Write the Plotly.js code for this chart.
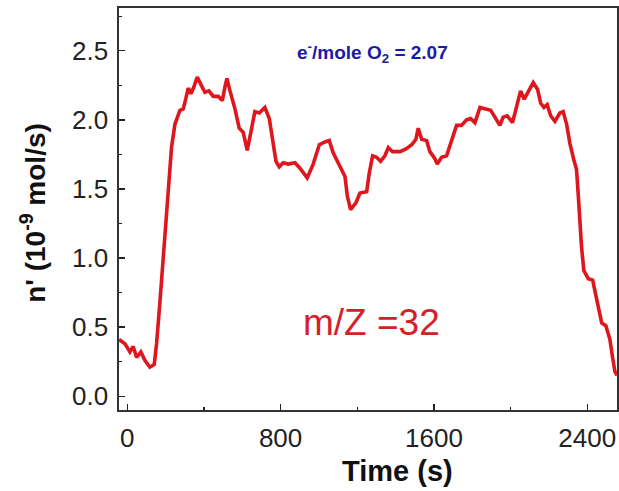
<!DOCTYPE html>
<html>
<head>
<meta charset="utf-8">
<script src="https://cdn.plot.ly/plotly-3.0.1.min.js"></script>
<style>html,body{margin:0;padding:0;background:#fff;}#chart{width:619px;height:491px;}</style>
</head>
<body>
<div id="chart"></div>
<script>
// Time (s)
var timeS = [-43,-12,14,31,49,71,92,118,141,153,171,188,205,218,231,249,275,292,305,318,
  332,348,365,384,405,426,449,475,496,510,520,536,562,584,605,626,644,666,689,718,
  741,759,776,793,814,840,875,901,939,970,1002,1031,1054,1075,1106,1136,1148,1165,1193,1214,
  1249,1262,1280,1301,1322,1344,1362,1384,1423,1454,1484,1506,1518,1536,1562,1579,1605,1617,1640,1666,
  1692,1718,1744,1770,1791,1814,1840,1866,1896,1918,1944,1961,1982,2010,2031,2052,2071,2092,2118,2141,
  2157,2174,2191,2209,2231,2257,2274,2292,2309,2330,2344,2356,2362,2370,2382,2405,2428,2445,2462,2475,
  2497,2518,2532,2544,2555];
// n' (10^-9 mol/s)
var flux = [0.41,0.38,0.32,0.36,0.28,0.32,0.26,0.21,0.23,0.38,0.69,0.98,1.27,1.56,1.80,1.97,2.07,2.08,2.15,2.23,
  2.19,2.24,2.31,2.26,2.20,2.21,2.17,2.17,2.14,2.24,2.30,2.21,2.08,1.94,1.91,1.78,1.92,2.06,2.05,2.09,
  2.01,1.83,1.70,1.66,1.69,1.68,1.69,1.65,1.58,1.68,1.82,1.84,1.85,1.76,1.67,1.59,1.45,1.35,1.40,1.47,
  1.48,1.61,1.74,1.73,1.70,1.74,1.80,1.77,1.77,1.79,1.82,1.86,1.94,1.86,1.85,1.77,1.72,1.68,1.73,1.74,
  1.85,1.96,1.96,2.00,2.01,1.98,2.09,2.08,2.07,2.02,1.96,2.02,2.03,1.98,2.09,2.21,2.15,2.20,2.27,2.22,
  2.12,2.09,2.11,2.03,1.99,2.05,2.06,1.97,1.83,1.71,1.64,1.39,1.20,1.08,0.91,0.85,0.84,0.72,0.62,0.53,
  0.51,0.41,0.28,0.18,0.15];
var xTicks = [0, 800, 1600, 2400];
var yTicks = [0.0, 0.5, 1.0, 1.5, 2.0, 2.5];
var yTickText = ['0.0', '0.5', '1.0', '1.5', '2.0', '2.5'];

var font = 'Liberation Sans, Arial, sans-serif';
var trace = {
  x: timeS, y: flux, type: 'scatter', mode: 'lines',
  line: {color: 'rgb(222,22,30)', width: 3.6}, hoverinfo: 'skip'
};
var layout = {
  width: 619, height: 491,
  margin: {l: 119, r: 2, t: 8, b: 81},
  paper_bgcolor: '#fff', plot_bgcolor: '#fff',
  showlegend: false,
  font: {family: font, color: '#222'},
  xaxis: {
    range: [-43, 2555], tickvals: xTicks, ticktext: xTicks.map(String),
    ticks: 'inside', ticklen: 6, tickwidth: 1.3, tickcolor: '#222',
    minor: {ticks: 'inside', ticklen: 3, tickwidth: 1.3, dtick: 400, tick0: 0, tickcolor: '#222'},
    showline: true, linecolor: '#333', linewidth: 1.6, mirror: true,
    showgrid: false, zeroline: false,
    tickfont: {size: 26, family: font, color: '#222'}, ticklabelstandoff: 4
  },
  yaxis: {
    range: [-0.1, 2.81], tickvals: yTicks, ticktext: yTickText,
    ticks: 'inside', ticklen: 6, tickwidth: 1.3, tickcolor: '#222',
    minor: {ticks: 'inside', ticklen: 3, tickwidth: 1.3, dtick: 0.25, tick0: 0, tickcolor: '#222'},
    showline: true, linecolor: '#333', linewidth: 1.6, mirror: true,
    showgrid: false, zeroline: false,
    tickfont: {size: 26, family: font, color: '#222'}, ticklabelstandoff: 4
  },
  annotations: [
    {text: '<b>Time (s)</b>', xref: 'paper', yref: 'paper', x: 0.56, y: -0.152,
     xanchor: 'center', yanchor: 'middle', showarrow: false,
     font: {size: 29, family: font, color: '#111'}},
    {text: "<b>n' (10<sup>-9</sup> mol/s)</b>", xref: 'paper', yref: 'paper', x: -0.173, y: 0.49,
     xanchor: 'center', yanchor: 'middle', showarrow: false, textangle: -90,
     font: {size: 28, family: font, color: '#111'}},
    {text: '<b>e<sup>-</sup>/mole O<sub>2</sub> = 2.07</b>', xref: 'x', yref: 'y', x: 1282, y: 2.49,
     xanchor: 'center', yanchor: 'middle', showarrow: false,
     font: {size: 19, family: font, color: '#1a1aa6'}},
    {text: 'm/Z =32', xref: 'x', yref: 'y', x: 1276, y: 0.535,
     xanchor: 'center', yanchor: 'middle', showarrow: false,
     font: {size: 37, family: font, color: 'rgb(214,32,39)'}}
  ]
};
Plotly.newPlot('chart', [trace], layout, {displayModeBar: false, staticPlot: true});
</script>
</body>
</html>
